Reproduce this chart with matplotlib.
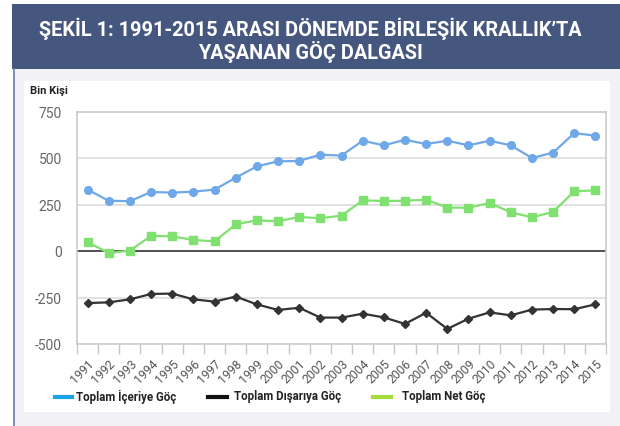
import numpy as np
import matplotlib
matplotlib.use('Agg')
import matplotlib.pyplot as plt
from matplotlib.patches import Rectangle
from matplotlib.lines import Line2D

# Data (thousand people)
years = [str(y) for y in range(1991, 2016)]
inflow = [330, 270, 268, 317, 314, 319, 330, 394, 455, 482, 484, 518, 513,
          593, 568, 598, 575, 593, 568, 593, 568, 500, 529, 634, 620]
outflow = [-280, -276, -260, -231, -229, -260, -272, -245, -287, -317, -305, -358, -358,
           -337, -357, -392, -332, -419, -364, -330, -346, -315, -312, -313, -287]
net = [48, -11, 2, 81, 79, 59, 52, 143, 165, 160, 183, 176, 190,
       272, 269, 270, 276, 233, 233, 258, 208, 181, 210, 321, 326]
y_ticks = [-500, -250, 0, 250, 500, 750]
legend_labels = ['Toplam İçeriye Göç', 'Toplam Dışarıya Göç', 'Toplam Net Göç']

W, H = 620, 427
fig = plt.figure(figsize=(W / 100, H / 100), dpi=100)
fig.patch.set_facecolor('white')
FONT = ['Roboto', 'DejaVu Sans']


def fx(x):
    return x / W


def fy(y):
    return 1 - y / H


# background panels
fig.add_artist(Rectangle((fx(14), 0), 1 - fx(14), fy(70), transform=fig.transFigure,
                         facecolor='#F2F2F6', edgecolor='none', zorder=0))
fig.add_artist(Rectangle((fx(12), fy(70)), 1 - fx(12), fy(5) - fy(70), transform=fig.transFigure,
                         facecolor='#46577F', edgecolor='none', zorder=0))
fig.add_artist(Line2D([fx(14), fx(14)], [0, fy(70)], transform=fig.transFigure,
                      color='#6A7BA8', lw=1.2, zorder=1))
fig.add_artist(Rectangle((fx(24), fy(413)), fx(610) - fx(24), fy(82) - fy(413),
                         transform=fig.transFigure, facecolor='white', edgecolor='none', zorder=0))

t1 = fig.text(fx(310), fy(29), 'ŞEKİL 1: 1991-2015 ARASI DÖNEMDE BİRLEŞİK KRALLIK’TA',
              ha='center', va='center', fontsize=15, family=FONT, weight='bold', color='white')
t2 = fig.text(fx(310), fy(52), 'YAŞANAN GÖÇ DALGASI',
              ha='center', va='center', fontsize=15, family=FONT, weight='bold', color='white')
# shrink the title so the first line spans about 544 px like the original
r = fig.canvas.get_renderer()
w = t1.get_window_extent(r).width
size = 15 * min(1.0, 544 / w)
t1.set_fontsize(size)
t2.set_fontsize(size)

fig.text(fx(30), fy(91), 'Bin Kişi', ha='left', va='center', fontsize=8,
         family=FONT, weight='bold', color='#222222')

# axes
ax = fig.add_axes([fx(77), fy(345), fx(606) - fx(77), fy(112.5) - fy(345)])
ax.set_facecolor('white')
x = np.arange(len(years))

ax.plot(x, inflow, color='#6FA8E8', lw=1.6, marker='o', ms=5.5, zorder=3)
ax.plot(x, outflow, color='#333333', lw=1.6, marker='D', ms=3.8, zorder=3)
ax.plot(x, net, color='#80E070', lw=1.6, marker='s', ms=5.5, zorder=3)

ax.set_ylim(-500, 750)
ax.set_xlim(-0.5, len(years) - 0.5)
ax.set_yticks(y_ticks)
ax.set_yticklabels([str(v) for v in y_ticks], family=FONT)
ax.tick_params(axis='y', length=0, pad=11, labelsize=10, labelcolor='#666666')
for v in y_ticks:
    if v == 0:
        ax.axhline(v, color='#333333', lw=1.2, zorder=2)
    else:
        ax.axhline(v, color='#DDDDDD', lw=1.2, zorder=1)

ax.set_xticks(np.arange(len(years) + 1) - 0.5)
ax.set_xticklabels([])
ax.set_xticks(x, minor=True)
ax.set_xticklabels(years, minor=True, rotation=45, ha='right', va='top',
                   rotation_mode='anchor', family=FONT)
ax.tick_params(axis='x', which='major', length=7, color='#C8C8C8', width=1)
ax.tick_params(axis='x', which='minor', length=0, pad=9, labelsize=8.8, labelcolor='#555555')
for s in ax.spines.values():
    s.set_color('#CCCCCC')
    s.set_linewidth(1.2)

# legend
leg_items = [(55, 72, 76, '#1BA3E8'), (208, 227, 234, '#111111'), (373, 391, 402, '#A6DB3C')]
for (x0, x1, xt, c), lab in zip(leg_items, legend_labels):
    fig.add_artist(Line2D([fx(x0), fx(x1)], [fy(398), fy(398)], transform=fig.transFigure,
                          color=c, lw=3))
    fig.text(fx(xt), fy(397), lab, ha='left', va='center', fontsize=8.3,
             family=FONT, weight='bold', color='#222222')

fig.savefig('out.png', dpi=100)
